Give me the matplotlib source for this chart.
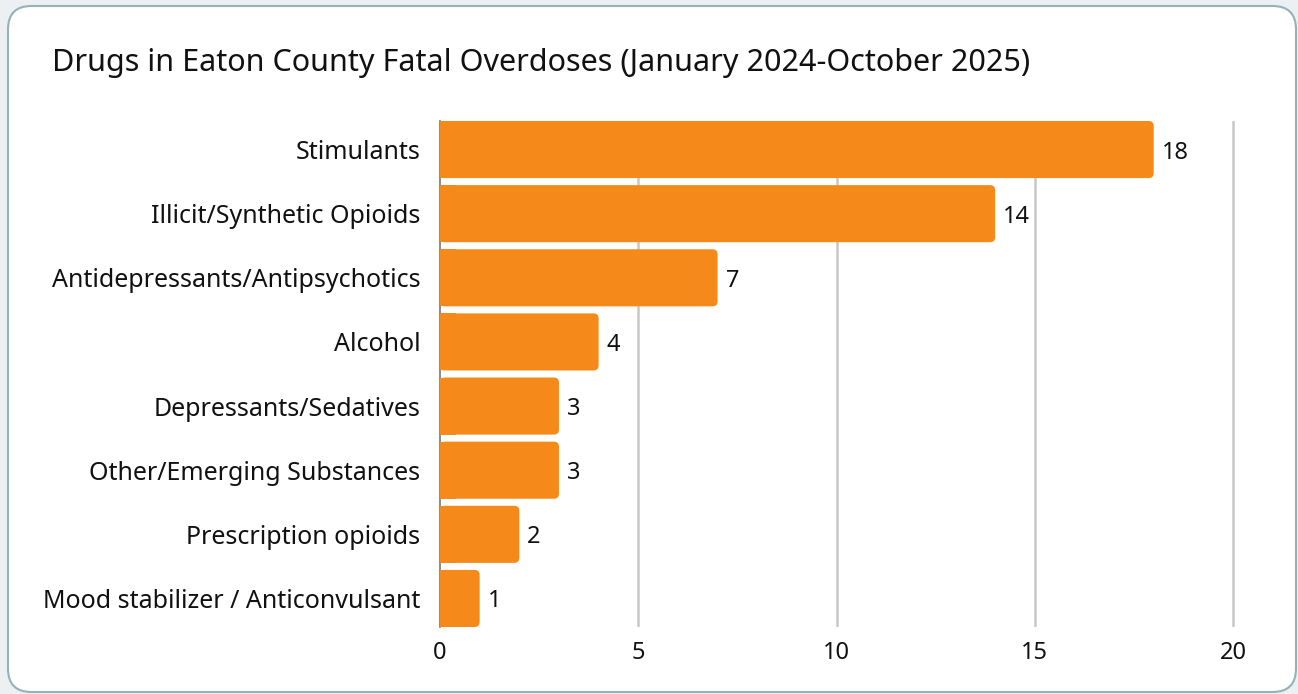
import matplotlib.pyplot as plt
from matplotlib.patches import FancyBboxPatch, Rectangle

categories = ["Stimulants", "Illicit/Synthetic Opioids", "Antidepressants/Antipsychotics",
              "Alcohol", "Depressants/Sedatives", "Other/Emerging Substances",
              "Prescription opioids", "Mood stabilizer / Anticonvulsant"]
counts = [18, 14, 7, 4, 3, 3, 2, 1]
xticks = [0, 5, 10, 15, 20]

plt.rcParams['font.family'] = ['Noto Sans', 'DejaVu Sans']

W, H = 1298, 694
fig = plt.figure(figsize=(W / 100, H / 100), dpi=100)
fig.patch.set_facecolor('#ECF0F3')

# card
card = FancyBboxPatch((8 / W, 2 / H), 1288 / W, 686 / H,
                      boxstyle="round,pad=0,rounding_size=0.018",
                      mutation_aspect=W / H,
                      transform=fig.transFigure, facecolor='white',
                      edgecolor='#93B3B8', linewidth=1.5, zorder=-5)
fig.patches.append(card)

fig.text(52 / W, 1 - 63 / H, "Drugs in Eaton County Fatal Overdoses (January 2024-October 2025)",
         fontsize=22, va='center', ha='left', color='#111111')

ax_left, ax_right = 440, 1250
ax_top, ax_bot = 121, 627
ax = fig.add_axes([ax_left / W, 1 - ax_bot / H, (ax_right - ax_left) / W, (ax_bot - ax_top) / H])
ax.set_facecolor('none')

xmax = 20 * (ax_right - ax_left) / (1233 - ax_left)
ax.set_xlim(0, xmax)
bh = 0.89
ax.set_ylim(len(categories) - 1 + bh / 2, -bh / 2)

px_x = (1233 - ax_left) / 20
px_y = (ax_bot - ax_top) / (len(categories) - 1 + bh)
color = '#F58A1A'
for i, (c, v) in enumerate(zip(categories, counts)):
    r = 5 / px_x
    ax.add_patch(FancyBboxPatch((0, i - bh / 2), v, bh,
                                boxstyle=f"round,pad=0,rounding_size={r}",
                                mutation_aspect=px_x / px_y,
                                facecolor=color, edgecolor='none', zorder=3))
    ax.add_patch(Rectangle((0, i - bh / 2), min(v, 0.4), bh,
                           facecolor=color, edgecolor='none', zorder=3))
    ax.text(v + 8 / px_x, i, str(v), va='center_baseline', ha='left', fontsize=17, color='#111111')

ax.set_yticks(range(len(categories)))
ax.set_yticklabels(categories, fontsize=18, color='#111111', va='center_baseline')
ax.set_xticks(xticks)
ax.set_xticklabels([str(t) for t in xticks], fontsize=17, color='#111111')
ax.tick_params(axis='y', length=0, pad=14)
ax.tick_params(axis='x', length=0, pad=10)

for t in xticks[1:]:
    ax.axvline(t, color='#C8C8C8', linewidth=1.8, zorder=1)

for s in ['top', 'right', 'bottom']:
    ax.spines[s].set_visible(False)
ax.spines['left'].set_color('#777777')
ax.spines['left'].set_linewidth(1.2)

fig.savefig("out.png", dpi=100, facecolor=fig.get_facecolor())
